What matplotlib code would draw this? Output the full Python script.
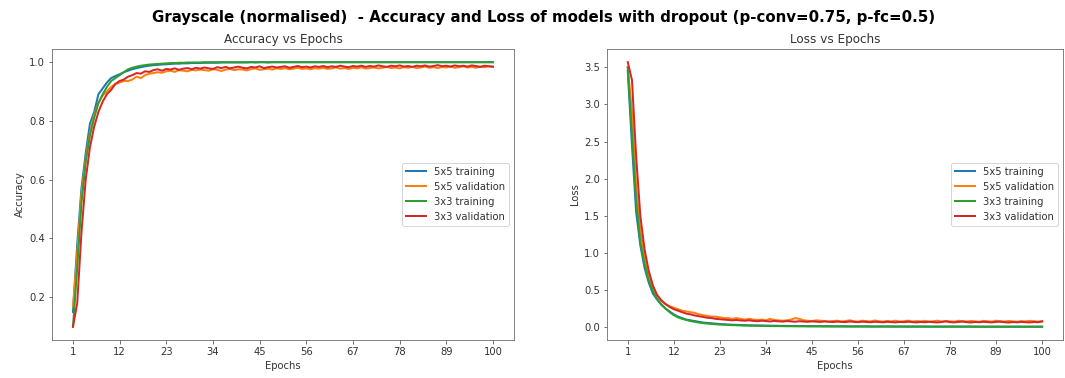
import numpy as np
from matplotlib import pyplot as plt

epochs = list(range(1, 101))

acc_5x5_train = [
    0.15, 0.38, 0.57, 0.69, 0.79, 0.83, 0.89, 0.91, 0.93, 0.945,
    0.952, 0.958, 0.965, 0.970, 0.975, 0.979, 0.982, 0.985, 0.987, 0.989,
    0.990, 0.991, 0.992, 0.993, 0.994, 0.994, 0.995, 0.995, 0.996, 0.996,
    0.996, 0.997, 0.997, 0.997, 0.997, 0.998, 0.998, 0.998, 0.998, 0.998,
    0.998, 0.998, 0.999, 0.998, 0.999, 0.999, 0.998, 0.999, 0.999, 0.999,
    0.999, 0.999, 0.999, 0.999, 0.999, 0.999, 0.999, 0.999, 0.999, 0.999,
    0.999, 0.999, 0.999, 0.999, 0.999, 0.999, 0.999, 0.999, 0.999, 0.999,
    0.999, 0.999, 0.999, 0.999, 0.999, 0.999, 0.999, 0.999, 0.999, 0.999,
    0.999, 0.999, 0.999, 0.999, 0.999, 0.999, 0.999, 0.999, 0.999, 0.999,
    0.999, 0.999, 0.999, 0.999, 0.999, 0.999, 0.999, 0.999, 0.999, 0.999]
acc_5x5_val = [
    0.17, 0.35, 0.55, 0.67, 0.76, 0.82, 0.86, 0.885, 0.90, 0.915,
    0.925, 0.930, 0.935, 0.935, 0.940, 0.950, 0.945, 0.955, 0.960, 0.962,
    0.965, 0.963, 0.968, 0.970, 0.966, 0.972, 0.970, 0.968, 0.973, 0.971,
    0.974, 0.972, 0.970, 0.975, 0.973, 0.969, 0.974, 0.976, 0.972, 0.975,
    0.974, 0.971, 0.976, 0.978, 0.973, 0.975, 0.977, 0.974, 0.978, 0.976,
    0.979, 0.975, 0.977, 0.980, 0.976, 0.978, 0.975, 0.979, 0.977, 0.980,
    0.976, 0.978, 0.981, 0.977, 0.979, 0.976, 0.980, 0.978, 0.982, 0.977,
    0.979, 0.981, 0.978, 0.980, 0.983, 0.979, 0.981, 0.978, 0.982, 0.980,
    0.983, 0.979, 0.981, 0.984, 0.980, 0.982, 0.979, 0.983, 0.981, 0.984,
    0.980, 0.982, 0.985, 0.981, 0.983, 0.980, 0.984, 0.982, 0.985, 0.983]
acc_3x3_train = [
    0.10, 0.30, 0.52, 0.66, 0.75, 0.81, 0.86, 0.89, 0.915, 0.935,
    0.945, 0.955, 0.965, 0.975, 0.980, 0.984, 0.987, 0.989, 0.991, 0.992,
    0.993, 0.994, 0.995, 0.996, 0.996, 0.997, 0.997, 0.998, 0.998, 0.998,
    0.998, 0.999, 0.999, 0.999, 0.999, 0.999, 0.999, 0.999, 0.999, 0.999,
    0.999, 0.999, 0.999, 0.999, 0.999, 0.999, 0.999, 0.999, 0.999, 0.999,
    0.999, 0.999, 0.999, 0.999, 0.999, 0.999, 0.999, 0.999, 0.999, 0.999,
    0.999, 0.999, 0.999, 0.999, 0.999, 0.999, 0.999, 0.999, 0.999, 0.999,
    0.999, 0.999, 0.999, 0.999, 0.999, 0.999, 0.999, 0.999, 0.999, 0.999,
    0.999, 0.999, 0.999, 0.999, 0.999, 0.999, 0.999, 0.999, 0.999, 0.999,
    0.999, 0.999, 0.999, 0.999, 0.999, 0.999, 0.999, 0.999, 0.999, 0.999]
acc_3x3_val = [
    0.10, 0.18, 0.42, 0.60, 0.71, 0.78, 0.83, 0.865, 0.89, 0.905,
    0.925, 0.935, 0.940, 0.950, 0.955, 0.962, 0.960, 0.968, 0.966, 0.972,
    0.975, 0.970, 0.976, 0.974, 0.978, 0.973, 0.977, 0.979, 0.975, 0.980,
    0.977, 0.981, 0.978, 0.976, 0.982, 0.979, 0.983, 0.978, 0.981, 0.984,
    0.980, 0.978, 0.983, 0.981, 0.985, 0.979, 0.982, 0.984, 0.981, 0.983,
    0.985, 0.980, 0.983, 0.986, 0.982, 0.984, 0.981, 0.985, 0.983, 0.986,
    0.982, 0.985, 0.983, 0.987, 0.984, 0.982, 0.986, 0.984, 0.987, 0.983,
    0.986, 0.984, 0.988, 0.985, 0.983, 0.987, 0.985, 0.988, 0.984, 0.986,
    0.983, 0.987, 0.985, 0.988, 0.984, 0.986, 0.989, 0.985, 0.987, 0.984,
    0.988, 0.985, 0.987, 0.984, 0.988, 0.986, 0.983, 0.987, 0.985, 0.984]

loss_5x5_train = [
    3.45, 2.45, 1.55, 1.10, 0.80, 0.60, 0.45, 0.37, 0.30, 0.25,
    0.21, 0.17, 0.14, 0.12, 0.10, 0.09, 0.08, 0.07, 0.06, 0.055,
    0.050, 0.045, 0.040, 0.037, 0.034, 0.031, 0.029, 0.027, 0.025, 0.023,
    0.022, 0.021, 0.020, 0.019, 0.018, 0.017, 0.016, 0.015, 0.015, 0.014,
    0.014, 0.013, 0.013, 0.012, 0.012, 0.012, 0.011, 0.011, 0.011, 0.010,
    0.010, 0.010, 0.010, 0.009, 0.009, 0.009, 0.009, 0.009, 0.008, 0.008,
    0.008, 0.008, 0.008, 0.008, 0.007, 0.007, 0.007, 0.007, 0.007, 0.007,
    0.007, 0.007, 0.006, 0.006, 0.006, 0.006, 0.006, 0.006, 0.006, 0.006,
    0.006, 0.006, 0.006, 0.006, 0.005, 0.005, 0.005, 0.005, 0.005, 0.005,
    0.005, 0.005, 0.005, 0.005, 0.005, 0.005, 0.005, 0.005, 0.005, 0.005]
loss_5x5_val = [
    3.50, 2.90, 1.90, 1.30, 0.95, 0.70, 0.53, 0.43, 0.36, 0.31,
    0.28, 0.26, 0.24, 0.22, 0.21, 0.20, 0.19, 0.17, 0.16, 0.15,
    0.14, 0.14, 0.13, 0.12, 0.12, 0.11, 0.12, 0.11, 0.10, 0.11,
    0.100, 0.095, 0.100, 0.090, 0.110, 0.095, 0.090, 0.085, 0.090, 0.100,
    0.120, 0.110, 0.090, 0.085, 0.080, 0.090, 0.085, 0.080, 0.075, 0.080,
    0.085, 0.075, 0.080, 0.090, 0.078, 0.072, 0.085, 0.080, 0.075, 0.088,
    0.078, 0.073, 0.082, 0.076, 0.085, 0.072, 0.079, 0.086, 0.074, 0.080,
    0.076, 0.083, 0.072, 0.078, 0.085, 0.074, 0.081, 0.077, 0.072, 0.084,
    0.079, 0.074, 0.082, 0.076, 0.071, 0.083, 0.078, 0.073, 0.085, 0.077,
    0.074, 0.082, 0.076, 0.071, 0.080, 0.075, 0.083, 0.078, 0.073, 0.080]
loss_3x3_train = [
    3.50, 2.60, 1.70, 1.15, 0.85, 0.63, 0.48, 0.38, 0.31, 0.25,
    0.20, 0.16, 0.13, 0.11, 0.095, 0.080, 0.070, 0.060, 0.052, 0.046,
    0.041, 0.037, 0.033, 0.030, 0.027, 0.025, 0.023, 0.021, 0.019, 0.018,
    0.017, 0.016, 0.015, 0.014, 0.013, 0.012, 0.012, 0.011, 0.010, 0.010,
    0.009, 0.009, 0.009, 0.008, 0.008, 0.008, 0.008, 0.007, 0.007, 0.007,
    0.007, 0.007, 0.006, 0.006, 0.006, 0.006, 0.006, 0.006, 0.005, 0.005,
    0.005, 0.005, 0.005, 0.005, 0.005, 0.005, 0.005, 0.004, 0.004, 0.004,
    0.004, 0.004, 0.004, 0.004, 0.004, 0.004, 0.004, 0.004, 0.004, 0.004,
    0.004, 0.004, 0.004, 0.003, 0.003, 0.003, 0.003, 0.003, 0.003, 0.003,
    0.003, 0.003, 0.003, 0.003, 0.003, 0.003, 0.003, 0.003, 0.003, 0.003]
loss_3x3_val = [
    3.57, 3.33, 2.30, 1.50, 1.05, 0.76, 0.56, 0.43, 0.36, 0.31,
    0.27, 0.24, 0.22, 0.20, 0.18, 0.17, 0.155, 0.145, 0.135, 0.125,
    0.120, 0.110, 0.105, 0.100, 0.095, 0.090, 0.095, 0.088, 0.085, 0.090,
    0.082, 0.078, 0.085, 0.080, 0.075, 0.082, 0.077, 0.073, 0.080, 0.076,
    0.071, 0.078, 0.074, 0.070, 0.076, 0.072, 0.068, 0.075, 0.071, 0.067,
    0.073, 0.069, 0.066, 0.074, 0.070, 0.065, 0.072, 0.068, 0.064, 0.071,
    0.067, 0.063, 0.070, 0.066, 0.062, 0.069, 0.065, 0.072, 0.066, 0.062,
    0.068, 0.064, 0.071, 0.065, 0.061, 0.068, 0.075, 0.066, 0.062, 0.069,
    0.073, 0.065, 0.061, 0.068, 0.064, 0.070, 0.066, 0.062, 0.069, 0.072,
    0.064, 0.060, 0.067, 0.063, 0.069, 0.065, 0.061, 0.068, 0.064, 0.074]

labels = ["5x5 training", "5x5 validation", "3x3 training", "3x3 validation"]
xticks = [1, 12, 23, 34, 45, 56, 67, 78, 89, 100]

# greyish frame and text like the notebook theme
plt.rcParams['text.color'] = '#333333'
plt.rcParams['axes.labelcolor'] = '#333333'
plt.rcParams['xtick.color'] = '#555555'
plt.rcParams['ytick.color'] = '#555555'
plt.rcParams['xtick.labelcolor'] = '#333333'
plt.rcParams['ytick.labelcolor'] = '#333333'
plt.rcParams['axes.edgecolor'] = '#666666'

fig = plt.figure(figsize=(1065 / 72, 378 / 72), dpi=72)
ax1 = fig.add_axes([0.0488, 0.1005, 0.4338, 0.770])
ax2 = fig.add_axes([0.570, 0.1005, 0.428, 0.770])

for ys, lab in zip([acc_5x5_train, acc_5x5_val, acc_3x3_train, acc_3x3_val], labels):
    ax1.plot(epochs, ys, label=lab, linewidth=2)
ax1.set_title("Accuracy vs Epochs", fontsize=12)
ax1.set_xlabel("Epochs")
ax1.set_ylabel("Accuracy")
ax1.set_xticks(xticks)
ax1.legend(loc="center right")

for ys, lab in zip([loss_5x5_train, loss_5x5_val, loss_3x3_train, loss_3x3_val], labels):
    ax2.plot(epochs, ys, label=lab, linewidth=2)
ax2.set_title("Loss vs Epochs", fontsize=12)
ax2.set_xlabel("Epochs")
ax2.set_ylabel("Loss")
ax2.set_xticks(xticks)
ax2.legend(loc="center right")

fig.suptitle("Grayscale (normalised)  - Accuracy and Loss of models with dropout (p-conv=0.75, p-fc=0.5)",
             fontsize=15, fontweight="bold", color="black", x=0.51, y=0.955, va="center")
plt.savefig("out.png", dpi=72)
